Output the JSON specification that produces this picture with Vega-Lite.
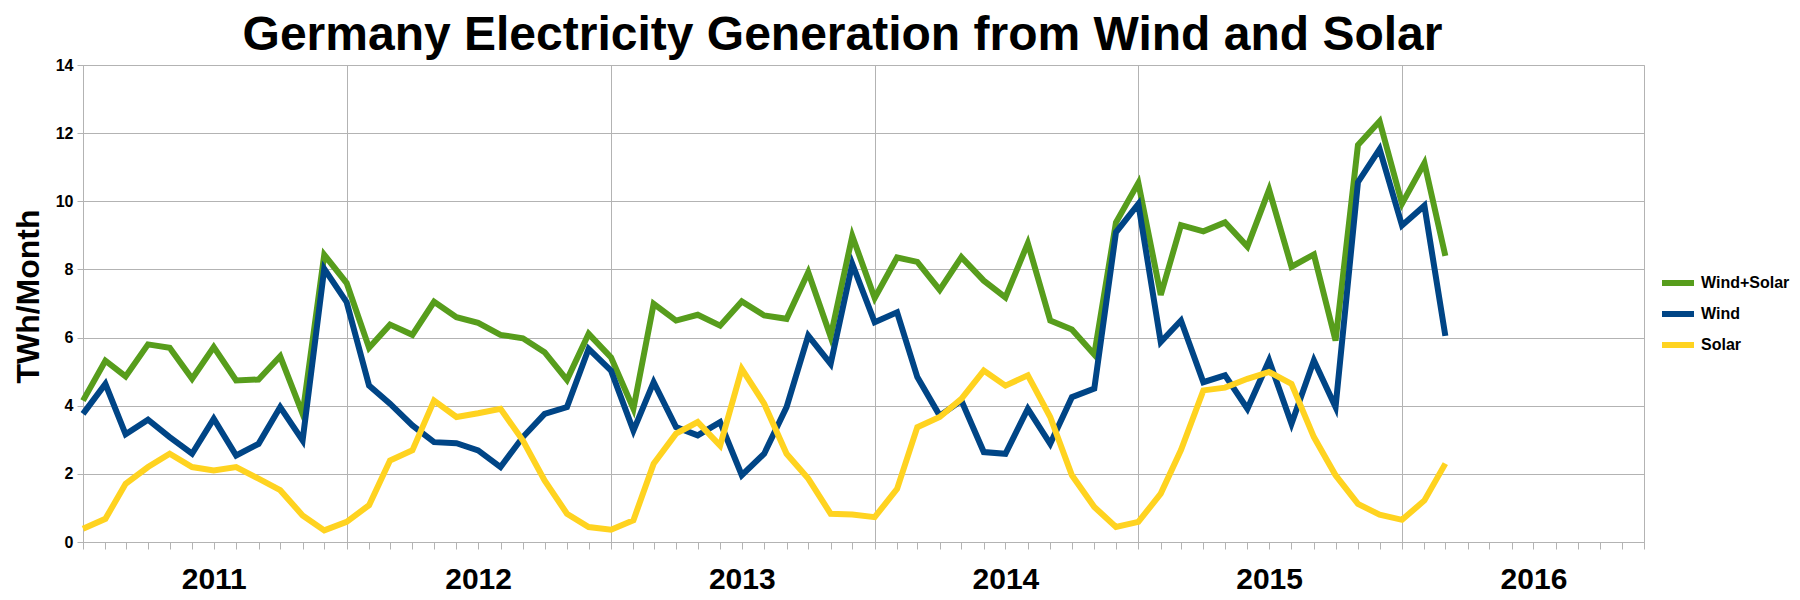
{
  "$schema": "https://vega.github.io/schema/vega-lite/v6.json",
  "autosize": {"type": "none"},
  "padding": {"left": 83, "top": 65, "right": 156, "bottom": 58},
  "width": 1561,
  "height": 477,
  "background": "white",
  "config": {
    "font": "Liberation Sans",
    "view": {"stroke": "#b3b3b3", "strokeWidth": 1}
  },
  "title": {
    "text": "Germany Electricity Generation from Wind and Solar",
    "font": "Liberation Sans",
    "fontSize": 48,
    "fontWeight": "bold",
    "color": "black",
    "anchor": "middle",
    "frame": "group",
    "dx": -21,
    "offset": -3
  },
  "data": {
    "values": [
      {"d":"2011-01-01","s":"Wind+Solar","v":4.15},{"d":"2011-02-01","s":"Wind+Solar","v":5.32},{"d":"2011-03-01","s":"Wind+Solar","v":4.86},{"d":"2011-04-01","s":"Wind+Solar","v":5.8},{"d":"2011-05-01","s":"Wind+Solar","v":5.7},{"d":"2011-06-01","s":"Wind+Solar","v":4.79},{"d":"2011-07-01","s":"Wind+Solar","v":5.72},{"d":"2011-08-01","s":"Wind+Solar","v":4.74},{"d":"2011-09-01","s":"Wind+Solar","v":4.77},{"d":"2011-10-01","s":"Wind+Solar","v":5.45},{"d":"2011-11-01","s":"Wind+Solar","v":3.76},{"d":"2011-12-01","s":"Wind+Solar","v":8.43},
      {"d":"2012-01-01","s":"Wind+Solar","v":7.6},{"d":"2012-02-01","s":"Wind+Solar","v":5.7},{"d":"2012-03-01","s":"Wind+Solar","v":6.38},{"d":"2012-04-01","s":"Wind+Solar","v":6.08},{"d":"2012-05-01","s":"Wind+Solar","v":7.05},{"d":"2012-06-01","s":"Wind+Solar","v":6.6},{"d":"2012-07-01","s":"Wind+Solar","v":6.43},{"d":"2012-08-01","s":"Wind+Solar","v":6.08},{"d":"2012-09-01","s":"Wind+Solar","v":5.98},{"d":"2012-10-01","s":"Wind+Solar","v":5.57},{"d":"2012-11-01","s":"Wind+Solar","v":4.76},{"d":"2012-12-01","s":"Wind+Solar","v":6.11},
      {"d":"2013-01-01","s":"Wind+Solar","v":5.42},{"d":"2013-02-01","s":"Wind+Solar","v":3.91},{"d":"2013-03-01","s":"Wind+Solar","v":6.99},{"d":"2013-04-01","s":"Wind+Solar","v":6.5},{"d":"2013-05-01","s":"Wind+Solar","v":6.67},{"d":"2013-06-01","s":"Wind+Solar","v":6.35},{"d":"2013-07-01","s":"Wind+Solar","v":7.06},{"d":"2013-08-01","s":"Wind+Solar","v":6.65},{"d":"2013-09-01","s":"Wind+Solar","v":6.55},{"d":"2013-10-01","s":"Wind+Solar","v":7.92},{"d":"2013-11-01","s":"Wind+Solar","v":6.03},{"d":"2013-12-01","s":"Wind+Solar","v":8.98},
      {"d":"2014-01-01","s":"Wind+Solar","v":7.16},{"d":"2014-02-01","s":"Wind+Solar","v":8.35},{"d":"2014-03-01","s":"Wind+Solar","v":8.22},{"d":"2014-04-01","s":"Wind+Solar","v":7.4},{"d":"2014-05-01","s":"Wind+Solar","v":8.36},{"d":"2014-06-01","s":"Wind+Solar","v":7.67},{"d":"2014-07-01","s":"Wind+Solar","v":7.18},{"d":"2014-08-01","s":"Wind+Solar","v":8.77},{"d":"2014-09-01","s":"Wind+Solar","v":6.5},{"d":"2014-10-01","s":"Wind+Solar","v":6.24},{"d":"2014-11-01","s":"Wind+Solar","v":5.5},{"d":"2014-12-01","s":"Wind+Solar","v":9.38},
      {"d":"2015-01-01","s":"Wind+Solar","v":10.54},{"d":"2015-02-01","s":"Wind+Solar","v":7.25},{"d":"2015-03-01","s":"Wind+Solar","v":9.3},{"d":"2015-04-01","s":"Wind+Solar","v":9.12},{"d":"2015-05-01","s":"Wind+Solar","v":9.38},{"d":"2015-06-01","s":"Wind+Solar","v":8.67},{"d":"2015-07-01","s":"Wind+Solar","v":10.34},{"d":"2015-08-01","s":"Wind+Solar","v":8.08},{"d":"2015-09-01","s":"Wind+Solar","v":8.44},{"d":"2015-10-01","s":"Wind+Solar","v":5.91},{"d":"2015-11-01","s":"Wind+Solar","v":11.65},{"d":"2015-12-01","s":"Wind+Solar","v":12.35},
      {"d":"2016-01-01","s":"Wind+Solar","v":9.93},{"d":"2016-02-01","s":"Wind+Solar","v":11.12},{"d":"2016-03-01","s":"Wind+Solar","v":8.4},
      {"d":"2011-01-01","s":"Wind","v":3.76},{"d":"2011-02-01","s":"Wind","v":4.64},{"d":"2011-03-01","s":"Wind","v":3.16},{"d":"2011-04-01","s":"Wind","v":3.59},{"d":"2011-05-01","s":"Wind","v":3.08},{"d":"2011-06-01","s":"Wind","v":2.59},{"d":"2011-07-01","s":"Wind","v":3.62},{"d":"2011-08-01","s":"Wind","v":2.54},{"d":"2011-09-01","s":"Wind","v":2.88},{"d":"2011-10-01","s":"Wind","v":3.96},{"d":"2011-11-01","s":"Wind","v":2.98},{"d":"2011-12-01","s":"Wind","v":8.02},
      {"d":"2012-01-01","s":"Wind","v":7.04},{"d":"2012-02-01","s":"Wind","v":4.59},{"d":"2012-03-01","s":"Wind","v":4.06},{"d":"2012-04-01","s":"Wind","v":3.42},{"d":"2012-05-01","s":"Wind","v":2.93},{"d":"2012-06-01","s":"Wind","v":2.9},{"d":"2012-07-01","s":"Wind","v":2.69},{"d":"2012-08-01","s":"Wind","v":2.2},{"d":"2012-09-01","s":"Wind","v":3.08},{"d":"2012-10-01","s":"Wind","v":3.76},{"d":"2012-11-01","s":"Wind","v":3.96},{"d":"2012-12-01","s":"Wind","v":5.67},
      {"d":"2013-01-01","s":"Wind","v":5.03},{"d":"2013-02-01","s":"Wind","v":3.27},{"d":"2013-03-01","s":"Wind","v":4.69},{"d":"2013-04-01","s":"Wind","v":3.37},{"d":"2013-05-01","s":"Wind","v":3.13},{"d":"2013-06-01","s":"Wind","v":3.52},{"d":"2013-07-01","s":"Wind","v":1.96},{"d":"2013-08-01","s":"Wind","v":2.59},{"d":"2013-09-01","s":"Wind","v":3.96},{"d":"2013-10-01","s":"Wind","v":6.06},{"d":"2013-11-01","s":"Wind","v":5.23},{"d":"2013-12-01","s":"Wind","v":8.16},
      {"d":"2014-01-01","s":"Wind","v":6.45},{"d":"2014-02-01","s":"Wind","v":6.74},{"d":"2014-03-01","s":"Wind","v":4.84},{"d":"2014-04-01","s":"Wind","v":3.71},{"d":"2014-05-01","s":"Wind","v":4.15},{"d":"2014-06-01","s":"Wind","v":2.64},{"d":"2014-07-01","s":"Wind","v":2.59},{"d":"2014-08-01","s":"Wind","v":3.91},{"d":"2014-09-01","s":"Wind","v":2.88},{"d":"2014-10-01","s":"Wind","v":4.25},{"d":"2014-11-01","s":"Wind","v":4.5},{"d":"2014-12-01","s":"Wind","v":9.09},
      {"d":"2015-01-01","s":"Wind","v":9.92},{"d":"2015-02-01","s":"Wind","v":5.87},{"d":"2015-03-01","s":"Wind","v":6.5},{"d":"2015-04-01","s":"Wind","v":4.69},{"d":"2015-05-01","s":"Wind","v":4.89},{"d":"2015-06-01","s":"Wind","v":3.91},{"d":"2015-07-01","s":"Wind","v":5.33},{"d":"2015-08-01","s":"Wind","v":3.47},{"d":"2015-09-01","s":"Wind","v":5.33},{"d":"2015-10-01","s":"Wind","v":3.96},{"d":"2015-11-01","s":"Wind","v":10.56},{"d":"2015-12-01","s":"Wind","v":11.53},
      {"d":"2016-01-01","s":"Wind","v":9.29},{"d":"2016-02-01","s":"Wind","v":9.87},{"d":"2016-03-01","s":"Wind","v":6.05},
      {"d":"2011-01-01","s":"Solar","v":0.39},{"d":"2011-02-01","s":"Solar","v":0.68},{"d":"2011-03-01","s":"Solar","v":1.71},{"d":"2011-04-01","s":"Solar","v":2.2},{"d":"2011-05-01","s":"Solar","v":2.59},{"d":"2011-06-01","s":"Solar","v":2.2},{"d":"2011-07-01","s":"Solar","v":2.1},{"d":"2011-08-01","s":"Solar","v":2.2},{"d":"2011-09-01","s":"Solar","v":1.86},{"d":"2011-10-01","s":"Solar","v":1.52},{"d":"2011-11-01","s":"Solar","v":0.78},{"d":"2011-12-01","s":"Solar","v":0.34},
      {"d":"2012-01-01","s":"Solar","v":0.59},{"d":"2012-02-01","s":"Solar","v":1.08},{"d":"2012-03-01","s":"Solar","v":2.39},{"d":"2012-04-01","s":"Solar","v":2.69},{"d":"2012-05-01","s":"Solar","v":4.15},{"d":"2012-06-01","s":"Solar","v":3.67},{"d":"2012-07-01","s":"Solar","v":3.78},{"d":"2012-08-01","s":"Solar","v":3.91},{"d":"2012-09-01","s":"Solar","v":2.98},{"d":"2012-10-01","s":"Solar","v":1.81},{"d":"2012-11-01","s":"Solar","v":0.83},{"d":"2012-12-01","s":"Solar","v":0.44},
      {"d":"2013-01-01","s":"Solar","v":0.36},{"d":"2013-02-01","s":"Solar","v":0.64},{"d":"2013-03-01","s":"Solar","v":2.3},{"d":"2013-04-01","s":"Solar","v":3.18},{"d":"2013-05-01","s":"Solar","v":3.52},{"d":"2013-06-01","s":"Solar","v":2.83},{"d":"2013-07-01","s":"Solar","v":5.08},{"d":"2013-08-01","s":"Solar","v":4.06},{"d":"2013-09-01","s":"Solar","v":2.59},{"d":"2013-10-01","s":"Solar","v":1.86},{"d":"2013-11-01","s":"Solar","v":0.83},{"d":"2013-12-01","s":"Solar","v":0.81},
      {"d":"2014-01-01","s":"Solar","v":0.73},{"d":"2014-02-01","s":"Solar","v":1.56},{"d":"2014-03-01","s":"Solar","v":3.37},{"d":"2014-04-01","s":"Solar","v":3.67},{"d":"2014-05-01","s":"Solar","v":4.2},{"d":"2014-06-01","s":"Solar","v":5.03},{"d":"2014-07-01","s":"Solar","v":4.59},{"d":"2014-08-01","s":"Solar","v":4.89},{"d":"2014-09-01","s":"Solar","v":3.67},{"d":"2014-10-01","s":"Solar","v":1.96},{"d":"2014-11-01","s":"Solar","v":1.03},{"d":"2014-12-01","s":"Solar","v":0.44},
      {"d":"2015-01-01","s":"Solar","v":0.59},{"d":"2015-02-01","s":"Solar","v":1.42},{"d":"2015-03-01","s":"Solar","v":2.7},{"d":"2015-04-01","s":"Solar","v":4.45},{"d":"2015-05-01","s":"Solar","v":4.53},{"d":"2015-06-01","s":"Solar","v":4.79},{"d":"2015-07-01","s":"Solar","v":4.99},{"d":"2015-08-01","s":"Solar","v":4.64},{"d":"2015-09-01","s":"Solar","v":3.08},{"d":"2015-10-01","s":"Solar","v":1.96},{"d":"2015-11-01","s":"Solar","v":1.12},{"d":"2015-12-01","s":"Solar","v":0.8},
      {"d":"2016-01-01","s":"Solar","v":0.65},{"d":"2016-02-01","s":"Solar","v":1.22},{"d":"2016-03-01","s":"Solar","v":2.3}
    ]
  },
  "mark": {"type": "line", "strokeWidth": 6, "strokeJoin": "miter"},
  "encoding": {
    "x": {
      "field": "d",
      "type": "temporal",
      "timeUnit": "utcyearmonth",
      "scale": {"domain": [{"year": 2011, "month": 1, "date": 1, "utc": true}, {"year": 2016, "month": 12, "date": 1, "utc": true}], "nice": false},
      "axis": {
        "title": null,
        "tickCount": {"interval": "month", "step": 1},
        "labelExpr": "utcmonth(datum.value) == 6 ? utcFormat(datum.value, '%Y') : ''",
        "labelOverlap": false,
        "labelFlush": false,
        "labelBound": false,
        "labelFont": "Liberation Sans",
        "labelFontSize": 30,
        "labelFontWeight": "bold",
        "labelColor": "black",
        "labelPadding": 15,
        "tickSize": 7,
        "tickColor": "#b3b3b3",
        "domainColor": "#b3b3b3",
        "grid": true,
        "gridColor": "#b3b3b3",
        "gridOpacity": {"condition": {"test": "utcmonth(datum.value) == 0", "value": 1}, "value": 0}
      }
    },
    "y": {
      "field": "v",
      "type": "quantitative",
      "scale": {"domain": [0, 14], "nice": false},
      "axis": {
        "title": "TWh/Month",
        "values": [0, 2, 4, 6, 8, 10, 12, 14],
        "titleFont": "Liberation Sans",
        "titleFontSize": 32,
        "titleFontWeight": "bold",
        "titleColor": "black",
        "titleAngle": 270,
        "titleBaseline": "alphabetic",
        "titleX": -45,
        "titleY": 231,
        "labelFont": "Liberation Sans",
        "labelFontSize": 16,
        "labelFontWeight": "bold",
        "labelColor": "black",
        "labelPadding": 4,
        "tickSize": 6,
        "tickColor": "#b3b3b3",
        "domainColor": "#b3b3b3",
        "grid": true,
        "gridColor": "#b3b3b3"
      }
    },
    "color": {
      "field": "s",
      "type": "nominal",
      "scale": {"domain": ["Wind+Solar", "Wind", "Solar"], "range": ["#579d1c", "#004586", "#ffd320"]},
      "legend": {
        "title": null,
        "orient": "none",
        "legendX": 1576,
        "legendY": 199,
        "symbolType": "stroke",
        "symbolSize": 1024,
        "symbolStrokeWidth": 6,
        "labelFont": "Liberation Sans",
        "labelFontSize": 16,
        "labelFontWeight": "bold",
        "labelColor": "black",
        "labelOffset": 4,
        "rowPadding": -8
      }
    }
  }
}
